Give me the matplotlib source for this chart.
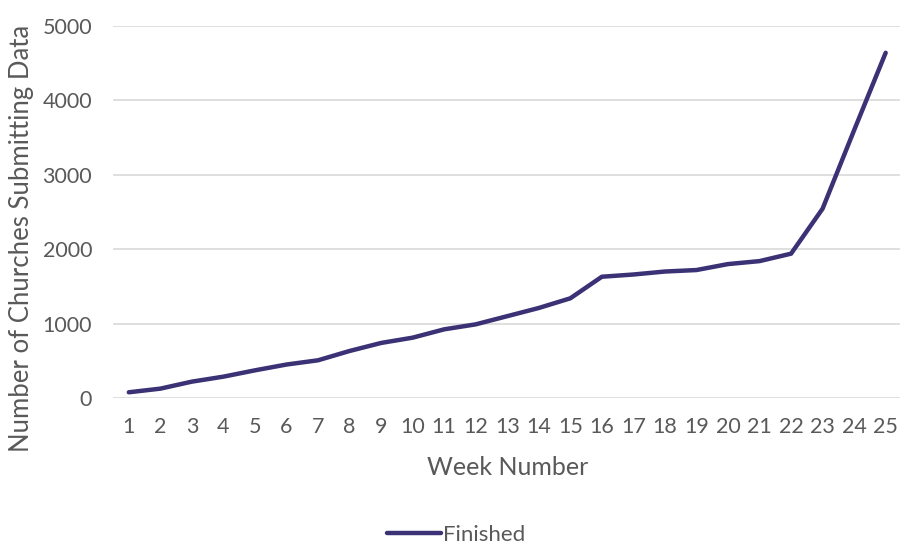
import matplotlib
matplotlib.use("Agg")
import matplotlib.pyplot as plt

weeks = list(range(1, 26))
finished = [77, 126, 220, 287, 372, 450, 507, 632, 740, 811, 923, 990,
            1100, 1210, 1340, 1630, 1660, 1700, 1720, 1800, 1840, 1940,
            2545, 3600, 4640]
yticks = [0, 1000, 2000, 3000, 4000, 5000]

plt.rcParams['font.family'] = ['Lato', 'DejaVu Sans']
text_col = '#595959'
line_col = '#3B3175'

fig = plt.figure(figsize=(9, 5.45), dpi=100)
ax = fig.add_axes([0.1256, 0.2697, 0.876, 0.6826])
ax.plot(weeks, finished, color=line_col, lw=3.2, solid_capstyle='round',
        solid_joinstyle='round', label='Finished')
ax.set_xlim(0.5, 25.5)
ax.set_ylim(0, 5000)
ax.set_yticks(yticks)
ax.set_xticks(weeks)
ax.grid(axis='y', color='#d9d9d9', lw=1.2)
ax.set_axisbelow(True)
for s in ax.spines.values():
    s.set_visible(False)
ax.tick_params(axis='both', length=0, labelsize=15.5, colors=text_col)
ax.tick_params(axis='y', pad=15)
ax.tick_params(axis='x', pad=14)
ax.set_xlabel('Week Number', fontsize=18, color=text_col)
ax.xaxis.set_label_coords(0.5, -0.155)
ax.set_ylabel('Number of Churches Submitting Data', fontsize=18.5, color=text_col)
ax.yaxis.set_label_coords(-0.1, 0.43)
leg = fig.legend(loc='center', bbox_to_anchor=(0.507, 0.018), frameon=False,
                 fontsize=16, handlelength=2.4, handletextpad=0.1)
for t in leg.get_texts():
    t.set_color(text_col)
fig.savefig('out.png', dpi=100)
